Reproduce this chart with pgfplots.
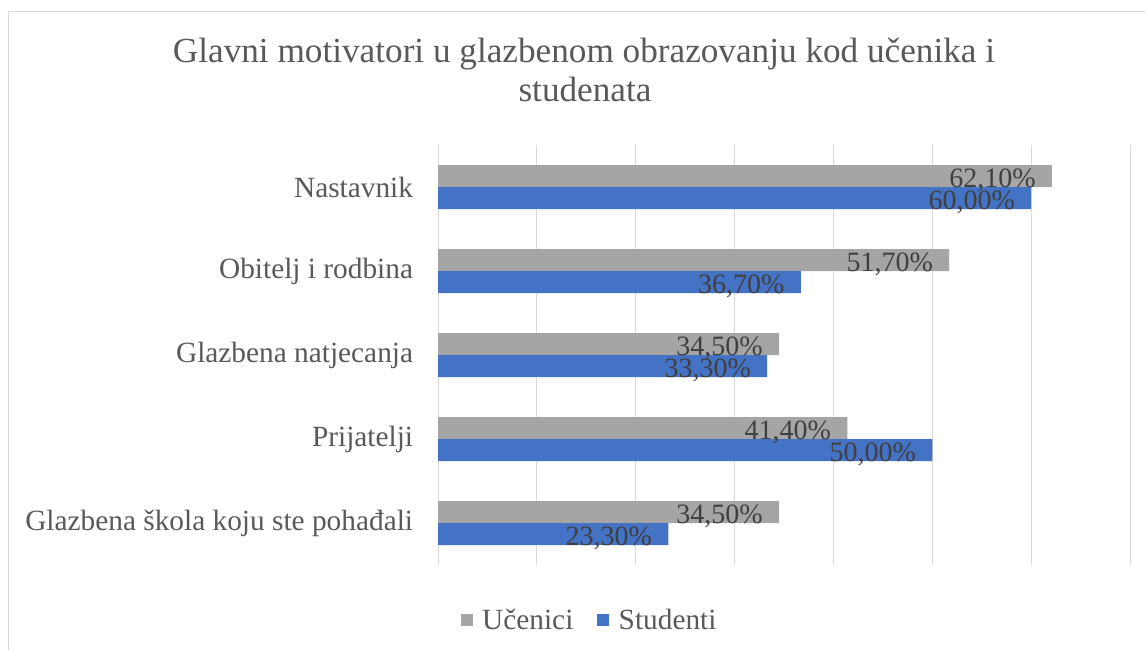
\documentclass[border=0pt]{standalone}
\usepackage{fontspec}
\setmainfont{Liberation Serif}
\usepackage{pgfplots}
\pgfplotsset{compat=1.18}
\usepackage{pgfplotstable}
\definecolor{ucgray}{HTML}{A5A5A5}
\definecolor{stblue}{HTML}{4472C4}
\definecolor{txt}{HTML}{595959}
\definecolor{lbl}{HTML}{404040}
\definecolor{grd}{HTML}{D9D9D9}
\pgfplotstableread{
y ucenici studenti
0 34.5 23.3
1 41.4 50.0
2 34.5 33.3
3 51.7 36.7
4 62.1 60.0
}\datatable
\begin{document}
\begin{tikzpicture}
\useasboundingbox (0,0) rectangle (858.75pt,487.5pt);
\draw[grd, line width=0.75pt] (6pt,0) -- (6pt,478.5pt) -- (858.75pt,478.5pt);
\node[anchor=base, text=txt, font=\fontsize{26.4}{31}\selectfont] at (438pt,440.25pt) {Glavni motivatori u glazbenom obrazovanju kod učenika i};
\node[anchor=base, text=txt, font=\fontsize{26.4}{31}\selectfont] at (438.75pt,411pt) {studenata};
\begin{axis}[
  at={(328.5pt,63.75pt)}, anchor=south west,
  scale only axis, width=519pt, height=315pt,
  xbar, bar width=16.5pt,
  xmin=0, xmax=70, ymin=-0.5, ymax=4.5,
  xtick={0,10,...,70}, xticklabels={},
  xmajorgrids, grid style={grd, line width=0.75pt},
  ytick={0,1,2,3,4},
  yticklabels={Glazbena škola koju ste pohađali, Prijatelji, Glazbena natjecanja, Obitelj i rodbina, Nastavnik},
  yticklabel style={inner sep=0pt, xshift=-14.25pt, text=txt, font=\fontsize{22}{26}\selectfont},
  axis line style={draw=none}, tick style={draw=none},
  point meta=x,
  nodes near coords={\pgfmathprintnumber[fixed,fixed zerofill,precision=2,use comma,assume math mode=true]{\pgfplotspointmeta}\%},
  nodes near coords align={anchor=east},
  every node near coord/.append style={inner sep=0pt, xshift=-12pt, yshift=-3.5pt, text=lbl, font=\fontsize{21}{25}\selectfont},
  legend columns=2,
  legend style={at={(0.2197,-0.131)}, anchor=center, draw=none, fill=none,
    font=\fontsize{22}{26}\selectfont, text=txt,
    /tikz/every even column/.append style={column sep=16pt},
    /tikz/every odd column/.append style={column sep=5pt}},
]
\addplot[fill=ucgray, draw=none, bar shift=8.25pt,
  legend image code/.code={\fill[ucgray] (0pt,-4.5pt) rectangle (9pt,4.5pt);}]
  table[x=ucenici, y=y] {\datatable};
\addlegendentry{Učenici}
\addplot[fill=stblue, draw=none, bar shift=-8.25pt,
  legend image code/.code={\fill[stblue] (0pt,-4.5pt) rectangle (9pt,4.5pt);}]
  table[x=studenti, y=y] {\datatable};
\addlegendentry{Studenti}
\end{axis}
\end{tikzpicture}
\end{document}
